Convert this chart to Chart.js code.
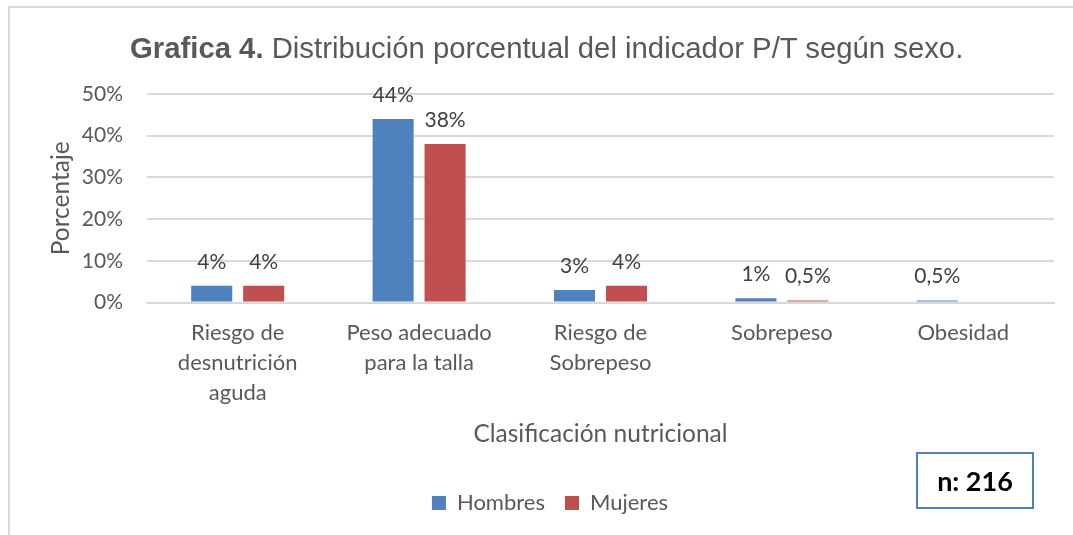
<!DOCTYPE html>
<html>
<head>
<meta charset="utf-8">
<script src="https://cdn.jsdelivr.net/npm/chart.js@4.4.1/dist/chart.umd.min.js"></script>
<style>
  html, body { margin: 0; padding: 0; background: #fff; }
  #wrap { position: relative; width: 1073px; height: 535px; overflow: hidden; }
  #frame { position: absolute; left: 8px; top: 6px; width: 1090px; height: 560px; border: 2px solid #d9d9d9; box-sizing: border-box; }
  #titulo { position: absolute; left: 130px; top: 33px; font-family: "Liberation Sans", Arial, sans-serif; font-size: 29.3px; line-height: 1; color: #595959; white-space: nowrap; }
  #titulo b { font-weight: bold; }
  #nbox { position: absolute; left: 916px; top: 452px; width: 118px; height: 57px; box-sizing: border-box; border: 2px solid #4f81bd;
          font-family: Lato, sans-serif; font-weight: bold; font-size: 27px; color: #000; display: flex; align-items: center; justify-content: center; }
  canvas { position: absolute; left: 0; top: 0; }
</style>
</head>
<body>
<div id="wrap">
  <div id="frame"></div>
  <canvas id="barChart" width="1073" height="535"></canvas>
  <div id="titulo"><b>Grafica 4.</b> Distribución porcentual del indicador P/T según sexo.</div>
  <div id="nbox">n: 216</div>
</div>
<script>
const CATEGORIAS = [
  ['Riesgo de', 'desnutrición', 'aguda'],
  ['Peso adecuado', 'para la talla'],
  ['Riesgo de', 'Sobrepeso'],
  'Sobrepeso',
  'Obesidad'
];
const HOMBRES = [4, 44, 3, 1, 0.5];
const MUJERES = [4, 38, 4, 0.5, null];
const Y_MAX = 50;
const Y_STEP = 10;

// etiquetas de datos encima de cada barra (coma decimal)
const etiquetasPlugin = {
  id: 'etiquetas',
  afterDatasetsDraw(chart) {
    const ctx = chart.ctx;
    ctx.save();
    ctx.font = '21px Lato';
    ctx.fillStyle = '#404040';
    ctx.textAlign = 'center';
    ctx.textBaseline = 'middle';
    chart.data.datasets.forEach((ds, i) => {
      chart.getDatasetMeta(i).data.forEach((bar, j) => {
        const v = ds.data[j];
        if (v == null) return;
        ctx.fillText(String(v).replace('.', ',') + '%', bar.x, bar.y - 24);
      });
    });
    ctx.restore();
  }
};

function plotBarras() {
  const ctx = document.getElementById('barChart').getContext('2d');
  new Chart(ctx, {
    type: 'bar',
    data: {
      labels: CATEGORIAS,
      datasets: [{
        label: 'Hombres',
        data: HOMBRES,
        backgroundColor: '#4f81bd',
        categoryPercentage: 0.573,
        barPercentage: 0.79
      }, {
        label: 'Mujeres',
        data: MUJERES,
        backgroundColor: '#c0504d',
        categoryPercentage: 0.573,
        barPercentage: 0.79
      }]
    },
    options: {
      responsive: false,
      animation: false,
      layout: { padding: { left: 46, right: 19, top: 94, bottom: 11 } },
      plugins: {
        title: { display: false },
        tooltip: { enabled: false },
        legend: {
          position: 'bottom',
          labels: {
            boxWidth: 14,
            boxHeight: 14,
            padding: 20,
            color: '#595959',
            font: { family: 'Lato', size: 22 }
          }
        }
      },
      scales: {
        x: {
          grid: { display: false, drawTicks: false },
          border: { display: true, color: '#d9d9d9', width: 2 },
          ticks: {
            color: '#595959',
            padding: 16,
            maxRotation: 0,
            autoSkip: false,
            font: { family: 'Lato', size: 22, lineHeight: 1.35 }
          },
          title: {
            display: true,
            text: 'Clasificación nutricional',
            color: '#595959',
            font: { family: 'Lato', size: 24.5 },
            padding: { top: -4, bottom: 23 }
          }
        },
        y: {
          min: 0,
          max: Y_MAX,
          afterFit: scale => { scale.width = 101; },
          grid: { color: '#d9d9d9', lineWidth: 2, drawTicks: false },
          border: { display: false },
          ticks: {
            stepSize: Y_STEP,
            padding: 24,
            color: '#595959',
            font: { family: 'Lato', size: 21 },
            callback: v => v + '%'
          },
          title: {
            display: true,
            text: 'Porcentaje',
            color: '#595959',
            font: { family: 'Lato', size: 24.5 },
            padding: { top: 0, bottom: 10 }
          }
        }
      }
    },
    plugins: [etiquetasPlugin]
  });
}

plotBarras();
</script>
</body>
</html>
